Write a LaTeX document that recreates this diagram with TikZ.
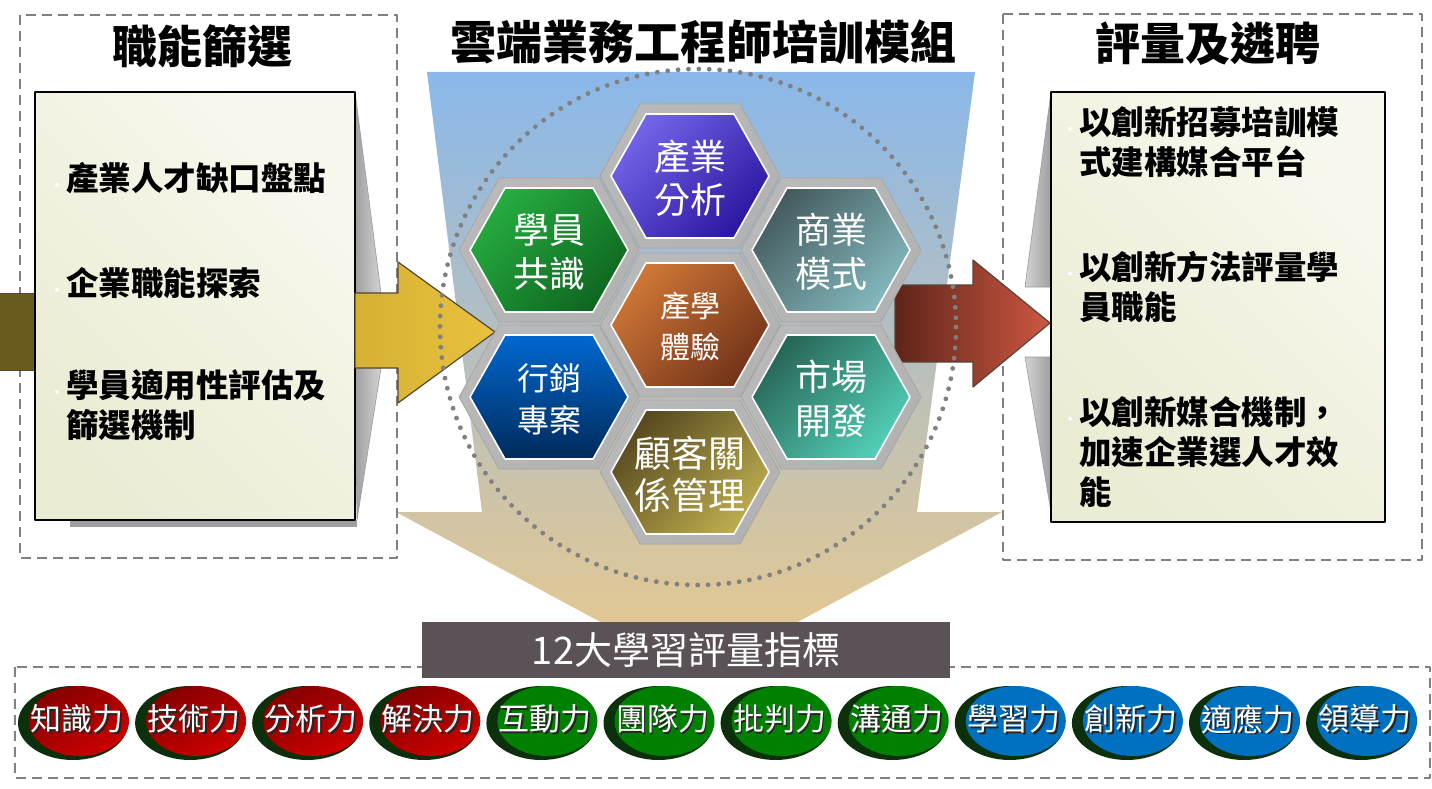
\documentclass[tikz,border=0pt]{standalone}
\usepackage{fontspec}
\setmainfont{Noto Sans CJK TC}
\usepackage{tikz}

\definecolor{dashgray}{HTML}{808080}
\definecolor{boxfill}{HTML}{ECEBD4}
\definecolor{boxfillB}{HTML}{F8F8EE}
\definecolor{stubbrown}{HTML}{6B5A1E}
\definecolor{edgebrown}{HTML}{54473A}
\definecolor{goldA}{HTML}{D6B032}
\definecolor{goldB}{HTML}{E8C23E}
\definecolor{rustA}{HTML}{5E2418}
\definecolor{rustB}{HTML}{CE5842}
\definecolor{skyblue}{HTML}{8AB8EA}
\definecolor{midgray}{HTML}{BAC0D4}
\definecolor{sand}{HTML}{EAC98C}
\definecolor{barfill}{HTML}{5A5256}
\definecolor{pillshade}{HTML}{0B300B}
\definecolor{pillredA}{HTML}{860000}
\definecolor{pillredB}{HTML}{CC0000}
\definecolor{pillgreenC}{HTML}{008000}
\definecolor{pillblueC}{HTML}{0070C0}
\definecolor{purA}{HTML}{7464E8}
\definecolor{purB}{HTML}{2A18A0}
\definecolor{grnA}{HTML}{26AC40}
\definecolor{grnB}{HTML}{0F6620}
\definecolor{slateA}{HTML}{465C60}
\definecolor{slateB}{HTML}{82B8BC}
\definecolor{brnA}{HTML}{CE7636}
\definecolor{brnB}{HTML}{74341A}
\definecolor{bluA}{HTML}{0068D0}
\definecolor{bluB}{HTML}{002A5A}
\definecolor{tealA}{HTML}{286656}
\definecolor{tealB}{HTML}{52CEB6}
\definecolor{oliA}{HTML}{584A20}
\definecolor{oliB}{HTML}{BCAC4E}

\newcommand{\shadowtext}[1]{\makebox[0pt][l]{\kern1.8pt\raisebox{-1.8pt}{\textcolor{black!85}{#1}}}\textcolor{white}{#1}}
\newcommand{\wdot}{\llap{\textcolor{white}{\fontsize{14}{14}\selectfont\textbullet}\kern2pt}}

\tikzset{
  dashbox/.style={draw=dashgray, line width=2.5, dash pattern=on 10pt off 6pt},
  contentbox/.style={draw=black, line width=1.8, top color=boxfill, bottom color=boxfillB, shading angle=135, inner sep=0},
  titletext/.style={font=\fontsize{45}{52}\selectfont\bfseries},
  bullettext/.style={anchor=west, align=left, inner sep=0, font=\fontsize{32.5}{40}\selectfont\bfseries},
  hextext/.style={text=white, align=center, inner sep=0},
  pilltext/.style={inner sep=0, font=\fontsize{31}{34}\selectfont},
  pillred/.style={top color=pillredA, bottom color=pillredB, shading angle=30},
  pillgreen/.style={fill=pillgreenC},
  pillblue/.style={fill=pillblueC},
  sidegray/.style={left color=gray!75, right color=gray!35, draw=gray!80, line width=0.6}
}

\begin{document}
\begin{tikzpicture}[x=1pt, y=-1pt, line join=round]
    \useasboundingbox[fill=white] (0,0) rectangle (1432,789);

    % fundo do centro (funil + seta para baixo)
    \shade[top color=skyblue, middle color=midgray, bottom color=sand]
        (427,72) -- (975,72) -- (917,512) -- (1002,512) -- (699,675)
        -- (396,512) -- (482,512) -- cycle;

    \draw[dashbox] (20,15) rectangle (397,558);
    \draw[dashbox] (1003,14) rectangle (1422,560);

    \node[titletext] (screentitle) at (202,46) {職能篩選};
    \node[font=\fontsize{46}{52}\selectfont\bfseries] (moduletitle) at (703,42) {雲端業務工程師培訓模組};
    \node[titletext] (hiretitle) at (1208,44) {評量及遴聘};

    % sombras cinzas dos quadros
    \fill[stubbrown, draw=edgebrown, line width=1] (-2,293) rectangle (35,370);
    \shade[sidegray] (355,92) -- (381,293) -- (355,293) -- cycle;
    \shade[sidegray] (355,368) -- (381,368) -- (357,520) -- cycle;
    \fill[gray!75] (70,520) rectangle (357,527);
    \shade[sidegray, left color=gray!35, right color=gray!75] (1051,92) -- (1025,287) -- (1051,287) -- cycle;
    \shade[sidegray, left color=gray!35, right color=gray!75] (1025,357) -- (1051,357) -- (1051,512) -- cycle;

    \node[contentbox, minimum width=320, minimum height=428] (screenbox) at (195,306) {};
    \node[contentbox, minimum width=334, minimum height=430] (hirebox) at (1218,307) {};

    \node[bullettext] (s1) at (66,178) {\wdot 產業人才缺口盤點};
    \node[bullettext] (s2) at (66,283) {\wdot 企業職能探索};
    \node[bullettext] (s3) at (66,405) {\wdot 學員適用性評估及\\篩選機制};

    \node[bullettext] (h1) at (1079,142) {\wdot 以創新招募培訓模\\式建構媒合平台};
    \node[bullettext] (h2) at (1079,287) {\wdot 以創新方法評量學\\員職能};
    \node[bullettext] (h3) at (1079,452) {\wdot 以創新媒合機制，\\加速企業選人才效\\能};

    % setas
    \shade[left color=goldA, right color=goldB, draw=edgebrown, line width=1.2]
        (355,293) -- (398,293) -- (398,262) -- (495,332) -- (398,403) -- (398,368) -- (355,368) -- cycle;
    \shade[left color=rustA, right color=rustB, draw=edgebrown, line width=1.2]
        (895,285) -- (973,285) -- (973,260) -- (1050,323) -- (973,387) -- (973,362) -- (895,362) -- cycle;

    \draw[dashgray, line width=4.8, line cap=round, dash pattern=on 0pt off 10.4pt] (698,327) circle (258);

    \foreach \nm/\cx/\cy/\ca/\cb/\ang/\fsz/\lsk/\txt in {
        industry/690/176/purA/purB/45/36/43/{產業\\分析},
        consensus/549/250/grnA/grnB/45/36/44/{學員\\共識},
        business/831/250/slateA/slateB/45/36/44/{商業\\模式},
        practice/690/325/brnA/brnB/45/30/41/{產學\\體驗},
        marketing/549/397/bluA/bluB/0/32/42/{行銷\\專案},
        market/831/397/tealA/tealB/45/36/44/{市場\\開發},
        client/690/472/oliA/oliB/45/37/42/{顧客關\\係管理}}
    {
        \shade[top color=gray!55, middle color=white, bottom color=gray!60, shading angle=45, draw=gray!70, line width=0.8]
            (\cx-90,\cy) -- (\cx-50,\cy-72) -- (\cx+50,\cy-72) -- (\cx+90,\cy)
            -- (\cx+50,\cy+72) -- (\cx-50,\cy+72) -- cycle;
        \shade[top color=\ca, bottom color=\cb, shading angle=\ang, draw=white, line width=1.6]
            (\cx-79,\cy) -- (\cx-44,\cy-62) -- (\cx+44,\cy-62) -- (\cx+79,\cy)
            -- (\cx+44,\cy+62) -- (\cx-44,\cy+62) -- cycle;
        \node[hextext, font=\fontsize{\fsz}{\lsk}\selectfont] (\nm) at (\cx,\cy+2) {\txt};
    }

    \draw[dashbox] (15,667) rectangle (1430,778);
    \node[fill=barfill, text=white, minimum width=528, minimum height=56, inner sep=0,
        font=\fontsize{38}{42}\selectfont] (indexbar) at (686,650) {12大學習評量指標};

    \foreach \txt/\clr [count=\i from 0] in {知識力/red, 技術力/red, 分析力/red, 解決力/red,
        互動力/green, 團隊力/green, 批判力/green, 溝通力/green,
        學習力/blue, 創新力/blue, 適應力/blue, 領導力/blue}
    {
        \pgfmathsetmacro\cx{76+117.1*\i}
        \fill[pillshade] (\cx-3,723) ellipse (55 and 37);
        \path[pill\clr] (\cx+3,721) ellipse (50 and 35);
        \node[pilltext] (p\i) at (\cx+1,720) {\shadowtext{\txt}};
    }
\end{tikzpicture}
\end{document}
